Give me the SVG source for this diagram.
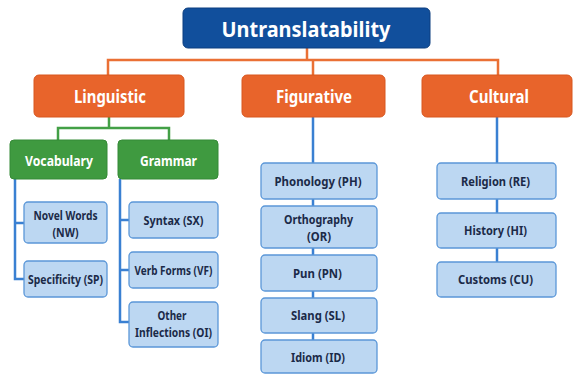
<svg xmlns="http://www.w3.org/2000/svg" width="573" height="374" viewBox="0 0 573 374">
<style>
text{font-family:"Noto Sans","Liberation Sans",sans-serif;font-weight:bold;text-anchor:middle;dominant-baseline:central}
.root{fill:#114f9c;stroke:#0d3f80;stroke-width:1}
.cat{fill:#e8642b;stroke:#d8561f;stroke-width:1}
.sub{fill:#3f9a40;stroke:#358a36;stroke-width:1}
.leaf{fill:#bcd7f2;stroke:#5b97d8;stroke-width:1.3}
.wt{fill:#ffffff}
.lt{fill:#1b2a48;font-size:12.5px}
.oc{stroke:#ea7035;stroke-width:2.5;fill:none}
.gc{stroke:#43a046;stroke-width:2.5;fill:none}
.bc{stroke:#3a80d2;stroke-width:2.5;fill:none}
</style>
<rect width="573" height="374" fill="#ffffff"/>
<g id="connectors">
<path class="oc" d="M307 48V60M108 75V60H498V75M313 60V75"/>
<path class="gc" d="M109 117V128M58 140V128H169V140"/>
<path class="bc" d="M15 179V279H24M15 223H24"/>
<path class="bc" d="M120 179V322H129M120 220H129M120 270H129"/>
<path class="bc" d="M313 117V340"/>
<path class="bc" d="M497 117V262"/>
</g>
<g id="untranslatability"><rect class="root" x="183" y="8" width="247" height="40" rx="5"/><text class="wt" x="306" y="28" font-size="22" textLength="169" lengthAdjust="spacingAndGlyphs">Untranslatability</text></g>
<g id="linguistic"><rect class="cat" x="34" y="75" width="150" height="42" rx="5"/><text class="wt" x="110" y="96" font-size="17" textLength="72" lengthAdjust="spacingAndGlyphs">Linguistic</text></g>
<g id="figurative"><rect class="cat" x="242" y="75" width="143" height="42" rx="5"/><text class="wt" x="314" y="96" font-size="17" textLength="76" lengthAdjust="spacingAndGlyphs">Figurative</text></g>
<g id="cultural"><rect class="cat" x="422" y="75" width="150" height="42" rx="5"/><text class="wt" x="499" y="96" font-size="17" textLength="60" lengthAdjust="spacingAndGlyphs">Cultural</text></g>
<g id="vocabulary"><rect class="sub" x="10" y="140" width="97" height="39" rx="4"/><text class="wt" x="59" y="159.5" font-size="15" textLength="68" lengthAdjust="spacingAndGlyphs">Vocabulary</text></g>
<g id="grammar"><rect class="sub" x="118" y="140" width="100" height="39" rx="4"/><text class="wt" x="168.5" y="159.5" font-size="15" textLength="57" lengthAdjust="spacingAndGlyphs">Grammar</text></g>
<g id="nw"><rect class="leaf" x="24" y="202" width="83" height="41" rx="4"/><text class="lt" x="65.5" y="215.5" textLength="64" lengthAdjust="spacingAndGlyphs">Novel Words</text><text class="lt" x="65.5" y="232" textLength="26" lengthAdjust="spacingAndGlyphs">(NW)</text></g>
<g id="sp"><rect class="leaf" x="24" y="261" width="83" height="36" rx="4"/><text class="lt" x="65.5" y="279" textLength="75" lengthAdjust="spacingAndGlyphs">Specificity (SP)</text></g>
<g id="sx"><rect class="leaf" x="129" y="202" width="89" height="36" rx="4"/><text class="lt" x="173.5" y="220" textLength="60" lengthAdjust="spacingAndGlyphs">Syntax (SX)</text></g>
<g id="vf"><rect class="leaf" x="129" y="252" width="89" height="36" rx="4"/><text class="lt" x="173.5" y="270" textLength="78" lengthAdjust="spacingAndGlyphs">Verb Forms (VF)</text></g>
<g id="oi"><rect class="leaf" x="129" y="302" width="89" height="45" rx="4"/><text class="lt" x="172" y="315.5" textLength="29" lengthAdjust="spacingAndGlyphs">Other</text><text class="lt" x="173.5" y="332.5" textLength="77" lengthAdjust="spacingAndGlyphs">Inflections (OI)</text></g>
<g id="ph"><rect class="leaf" x="261" y="163" width="116" height="36" rx="4"/><text class="lt" x="318" y="181" textLength="87" lengthAdjust="spacingAndGlyphs">Phonology (PH)</text></g>
<g id="or"><rect class="leaf" x="261" y="206" width="116" height="42" rx="4"/><text class="lt" x="318.5" y="219" textLength="69" lengthAdjust="spacingAndGlyphs">Orthography</text><text class="lt" x="319" y="236" textLength="24" lengthAdjust="spacingAndGlyphs">(OR)</text></g>
<g id="pn"><rect class="leaf" x="261" y="255" width="116" height="36" rx="4"/><text class="lt" x="317.5" y="273" textLength="49" lengthAdjust="spacingAndGlyphs">Pun (PN)</text></g>
<g id="sl"><rect class="leaf" x="261" y="298" width="116" height="35" rx="4"/><text class="lt" x="318" y="315.5" textLength="54" lengthAdjust="spacingAndGlyphs">Slang (SL)</text></g>
<g id="id"><rect class="leaf" x="261" y="340" width="116" height="33" rx="4"/><text class="lt" x="318" y="357" textLength="54" lengthAdjust="spacingAndGlyphs">Idiom (ID)</text></g>
<g id="re"><rect class="leaf" x="437" y="163" width="119" height="36" rx="4"/><text class="lt" x="495.5" y="181" textLength="69" lengthAdjust="spacingAndGlyphs">Religion (RE)</text></g>
<g id="hi"><rect class="leaf" x="437" y="213" width="119" height="35" rx="4"/><text class="lt" x="495.5" y="230.5" textLength="63" lengthAdjust="spacingAndGlyphs">History (HI)</text></g>
<g id="cu"><rect class="leaf" x="437" y="262" width="119" height="35" rx="4"/><text class="lt" x="495.5" y="279.5" textLength="75" lengthAdjust="spacingAndGlyphs">Customs (CU)</text></g>
</svg>
